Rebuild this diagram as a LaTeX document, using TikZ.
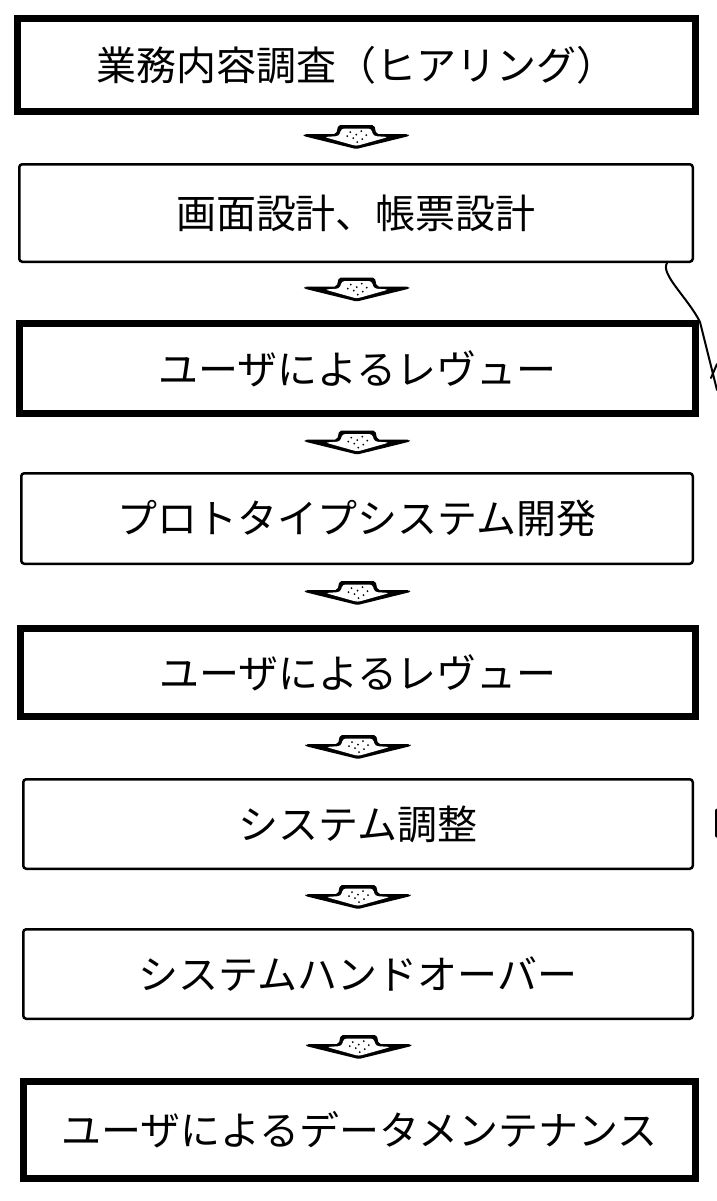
\documentclass[tikz,border=0pt]{standalone}
\usepackage{fontspec}
\newfontfamily\jp{Noto Sans CJK JP}
\usetikzlibrary{calc}
\tikzset{
  boxbase/.style={draw=black, fill=white, inner sep=0pt, font=\jp\fontsize{20pt}{24pt}\selectfont, text=black},
  thickbox/.style={boxbase, line width=3.5pt},
  thinbox/.style={boxbase, line width=1.25pt, rounded corners=1.5pt},
  flowarrow/.pic={
    \fill[black, rounded corners=1pt] (-52,9) -- (-20,9) -- (-18,0) -- (18,0) -- (20,9) -- (52,9) -- (53,11) -- (0,24) -- (-53,11) -- cycle;
    \fill[white, rounded corners=1.5pt] (-15,3.5) -- (15,3.5) -- (17,11) -- (32,12) -- (0,21) -- (-32,12) -- (-17,11) -- cycle;
    \foreach \p in {(-6,7),(5,6),(-3,13),(6,14),(0,9.5),(-9,11),(10,10),(1,17)}
      \fill[black] \p circle[radius=1];
  },
  artifact/.style={draw=black, line width=1pt, line cap=round, line join=round}
}
\begin{document}
\begin{tikzpicture}[x=0.5pt, y=-0.5pt]
\useasboundingbox[fill=white] (0,0) rectangle (717,1201);

\node[thickbox, minimum width=339pt, minimum height=46.5pt] (b1) at (356.5,65) {業務内容調査（ヒアリング）};
\node[thinbox, minimum width=336.75pt, minimum height=48.75pt] (b2) at (356,213) {画面設計、帳票設計};
\node[thickbox, minimum width=338pt, minimum height=45pt] (b3) at (357.5,368.5) {ユーザによるレヴュー};
\node[thinbox, minimum width=335.75pt, minimum height=45.25pt] (b4) at (357,518.5) {プロトタイプシステム開発};
\node[thickbox, minimum width=337.5pt, minimum height=44pt] (b5) at (358,672.5) {ユーザによるレヴュー};
\node[thinbox, minimum width=334.75pt, minimum height=44.75pt] (b6) at (358,824) {システム調整};
\node[thinbox, minimum width=334.75pt, minimum height=44.75pt] (b7) at (358,974) {システムハンドオーバー};
\node[thickbox, minimum width=336pt, minimum height=48.5pt] (b8) at (359.5,1130) {ユーザによるデータメンテナンス};

\foreach \a/\b in {b1/b2,b2/b3,b3/b4,b4/b5,b5/b6,b6/b7,b7/b8}
  \pic at ($($(\a.south)!0.5!(\b.north)$) + (0,-14)$) {flowarrow};

% marks at the right edge of the scan
\coordinate (c1) at (667,263);
\coordinate (c2) at (700,322);
\coordinate (c3) at (717,390);
\draw[artifact] (c1) .. controls (660,274) and (688,298) .. (c2) -- (c3);
\coordinate (c4) at (717,364);
\coordinate (c5) at (711,378);
\draw[artifact] (c4) -- (c5);
\coordinate (c6) at (716,810);
\coordinate (c7) at (716,836);
\draw[artifact, line width=1.5pt] (c6) -- (c7);
\end{tikzpicture}
\end{document}
